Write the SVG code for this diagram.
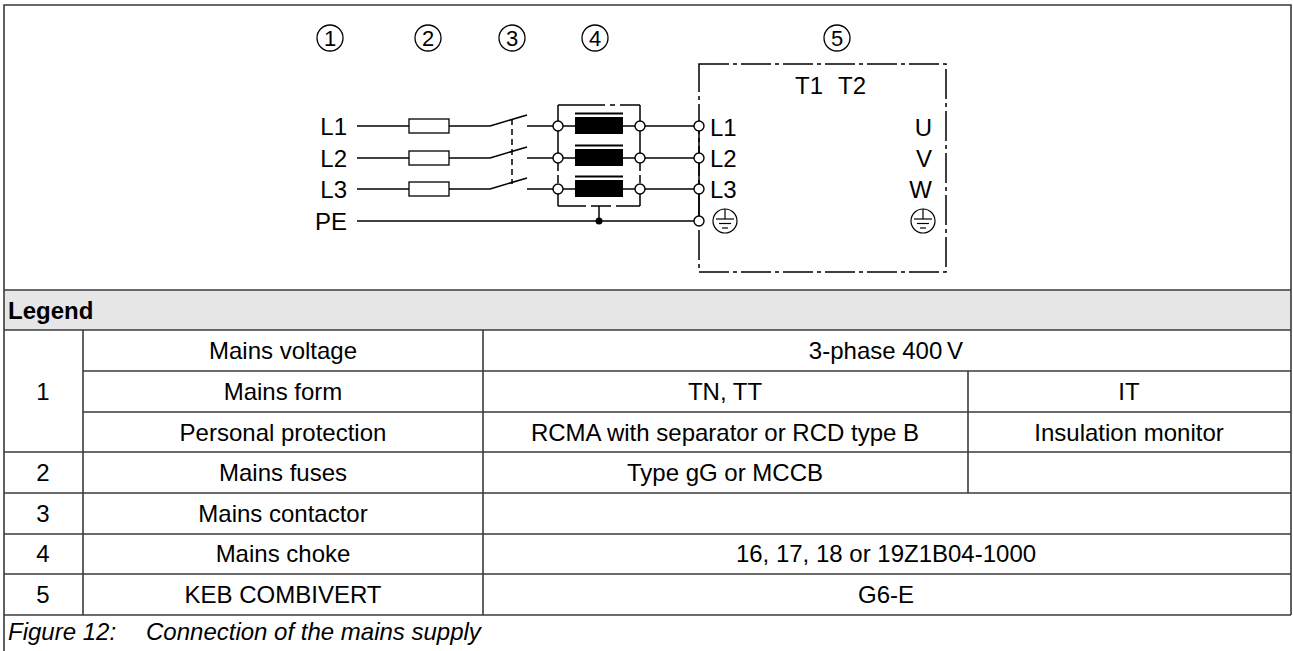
<svg xmlns="http://www.w3.org/2000/svg" width="1293" height="651" viewBox="0 0 1293 651">
<style>
.w{stroke:#000;stroke-width:1.5;fill:none}
.t{font-family:"Liberation Sans",Arial,sans-serif;fill:#000}
.d{font-size:24px}
.n{font-size:22px}
.tb{font-size:24px}
.g{stroke:#3a3a3a;stroke-width:1.6;fill:none}
.term{fill:#fff;stroke:#000;stroke-width:1.4}
.dd{stroke:#000;stroke-width:1.5;fill:none;stroke-dasharray:30,4,4,4}
.ds{stroke:#000;stroke-width:1.5;fill:none;stroke-dasharray:6,4}
</style>
<defs>
<g id="earth"><circle r="12" fill="#fff" stroke="#000" stroke-width="1.2"/><line x1="0" y1="-12" x2="0" y2="-2" stroke="#000" stroke-width="1.2"/><line x1="-9" y1="-2" x2="9" y2="-2" stroke="#000" stroke-width="1.2"/><line x1="-6" y1="2.5" x2="6" y2="2.5" stroke="#000" stroke-width="1.2"/><line x1="-3" y1="7" x2="3" y2="7" stroke="#000" stroke-width="1.2"/></g>
<g id="choke"><rect x="0" y="-9" width="48" height="17" fill="#000"/><line x1="0" y1="-12.5" x2="48" y2="-12.5" stroke="#000" stroke-width="1.8"/></g>
</defs>
<rect x="0" y="0" width="1293" height="651" fill="#fff"/>
<rect x="4" y="290" width="1287" height="40" fill="#e6e6e6"/>
<g id="frame" class="g">
<path d="M4,651 V5 H1291 V615"/>
<line x1="4" y1="290" x2="1291" y2="290"/>
<line x1="4" y1="330" x2="1291" y2="330"/>
<line x1="83" y1="371" x2="1291" y2="371"/>
<line x1="83" y1="412" x2="1291" y2="412"/>
<line x1="4" y1="452" x2="1291" y2="452"/>
<line x1="4" y1="493" x2="1291" y2="493"/>
<line x1="4" y1="534" x2="1291" y2="534"/>
<line x1="4" y1="574" x2="1291" y2="574"/>
<line x1="4" y1="615" x2="1291" y2="615"/>
<line x1="83" y1="330" x2="83" y2="615"/>
<line x1="483" y1="330" x2="483" y2="615"/>
<line x1="968" y1="371" x2="968" y2="493"/>
</g>
<g id="connectors">
<line class="w" x1="357" y1="126" x2="409" y2="126"/>
<line class="w" x1="449" y1="126" x2="490" y2="126"/>
<line class="w" x1="490" y1="126" x2="527" y2="115"/>
<line class="w" x1="527" y1="126" x2="553" y2="126"/>
<line class="w" x1="357" y1="158" x2="409" y2="158"/>
<line class="w" x1="449" y1="158" x2="490" y2="158"/>
<line class="w" x1="490" y1="158" x2="527" y2="147"/>
<line class="w" x1="527" y1="158" x2="553" y2="158"/>
<line class="w" x1="357" y1="189" x2="409" y2="189"/>
<line class="w" x1="449" y1="189" x2="490" y2="189"/>
<line class="w" x1="490" y1="189" x2="527" y2="178"/>
<line class="w" x1="527" y1="189" x2="553" y2="189"/>
<line class="ds" x1="512" y1="119" x2="512" y2="184"/>
<line class="w" x1="357" y1="221" x2="694" y2="221"/>
<line class="w" x1="563" y1="126" x2="575" y2="126"/>
<line class="w" x1="623" y1="126" x2="635" y2="126"/>
<line class="w" x1="563" y1="158" x2="575" y2="158"/>
<line class="w" x1="623" y1="158" x2="635" y2="158"/>
<line class="w" x1="563" y1="189" x2="575" y2="189"/>
<line class="w" x1="623" y1="189" x2="635" y2="189"/>
<line class="w" x1="645" y1="126" x2="694" y2="126"/>
<line class="w" x1="645" y1="158" x2="694" y2="158"/>
<line class="w" x1="645" y1="189" x2="694" y2="189"/>
<line class="w" x1="599" y1="206" x2="599" y2="221"/>
<circle cx="599" cy="221" r="3.5" fill="#000"/>
</g>
<g id="n1"><circle cx="330" cy="38" r="13" fill="none" stroke="#000" stroke-width="1.3"/><text class="t n" x="330" y="46" text-anchor="middle">1</text></g>
<g id="n2"><circle cx="428" cy="38" r="13" fill="none" stroke="#000" stroke-width="1.3"/><text class="t n" x="428" y="46" text-anchor="middle">2</text></g>
<g id="n3"><circle cx="512" cy="38" r="13" fill="none" stroke="#000" stroke-width="1.3"/><text class="t n" x="512" y="46" text-anchor="middle">3</text></g>
<g id="n4"><circle cx="595" cy="38" r="13" fill="none" stroke="#000" stroke-width="1.3"/><text class="t n" x="595" y="46" text-anchor="middle">4</text></g>
<g id="n5"><circle cx="837" cy="38" r="13" fill="none" stroke="#000" stroke-width="1.3"/><text class="t n" x="837" y="46" text-anchor="middle">5</text></g>
<g id="mains">
<text class="t d" x="347" y="135" text-anchor="end">L1</text>
<text class="t d" x="347" y="167" text-anchor="end">L2</text>
<text class="t d" x="347" y="198" text-anchor="end">L3</text>
<text class="t d" x="347" y="230" text-anchor="end">PE</text>
</g>
<g id="fuses">
<rect x="409" y="119" width="40" height="14" fill="#fff" stroke="#000" stroke-width="1.3"/>
<rect x="409" y="151" width="40" height="14" fill="#fff" stroke="#000" stroke-width="1.3"/>
<rect x="409" y="182" width="40" height="14" fill="#fff" stroke="#000" stroke-width="1.3"/>
</g>
<g id="choke-unit">
<path class="w" d="M558,105 V153 M640,105 V153 M558,194 V206 M640,194 V206"/>
<path class="w" stroke-dasharray="8,4" d="M558,163 V184 M640,163 V184"/>
<path class="w" stroke-dasharray="47,5,5,5,30" d="M558,105 H640"/>
<path class="w" stroke-dasharray="28,5,20,5,30" d="M558,206 H640"/>
<use href="#choke" x="575" y="126"/>
<use href="#choke" x="575" y="158"/>
<use href="#choke" x="575" y="189"/>
<circle class="term" cx="558" cy="126" r="5"/>
<circle class="term" cx="558" cy="158" r="5"/>
<circle class="term" cx="558" cy="189" r="5"/>
<circle class="term" cx="640" cy="126" r="5"/>
<circle class="term" cx="640" cy="158" r="5"/>
<circle class="term" cx="640" cy="189" r="5"/>
</g>
<g id="drive">
<rect class="dd" x="699" y="64" width="247" height="208"/>
<line class="w" x1="699" y1="126" x2="699" y2="221"/>
<circle class="term" cx="699" cy="126" r="5"/>
<circle class="term" cx="699" cy="158" r="5"/>
<circle class="term" cx="699" cy="189" r="5"/>
<circle class="term" cx="699" cy="221" r="5"/>
<text class="t d" x="795" y="94">T1</text>
<text class="t d" x="838" y="94">T2</text>
<text class="t d" x="710" y="136">L1</text>
<text class="t d" x="710" y="167">L2</text>
<text class="t d" x="710" y="198">L3</text>
<text class="t d" x="932" y="136" text-anchor="end">U</text>
<text class="t d" x="932" y="167" text-anchor="end">V</text>
<text class="t d" x="932" y="198" text-anchor="end">W</text>
<use href="#earth" x="725" y="221"/>
<use href="#earth" x="923" y="221"/>
</g>
<g id="legend" class="t tb">
<text x="8" y="319" font-weight="bold">Legend</text>
<text x="43" y="400" text-anchor="middle">1</text>
<text x="283" y="359" text-anchor="middle">Mains voltage</text>
<text x="886" y="359" text-anchor="middle">3-phase 400&#8201;V</text>
<text x="283" y="400" text-anchor="middle">Mains form</text>
<text x="725" y="400" text-anchor="middle">TN, TT</text>
<text x="1129" y="400" text-anchor="middle">IT</text>
<text x="283" y="441" text-anchor="middle">Personal protection</text>
<text x="725" y="441" text-anchor="middle">RCMA with separator or RCD type B</text>
<text x="1129" y="441" text-anchor="middle">Insulation monitor</text>
<text x="43" y="481" text-anchor="middle">2</text>
<text x="283" y="481" text-anchor="middle">Mains fuses</text>
<text x="725" y="481" text-anchor="middle">Type gG or MCCB</text>
<text x="43" y="522" text-anchor="middle">3</text>
<text x="283" y="522" text-anchor="middle">Mains contactor</text>
<text x="43" y="562" text-anchor="middle">4</text>
<text x="283" y="562" text-anchor="middle">Mains choke</text>
<text x="886" y="562" text-anchor="middle">16, 17, 18 or 19Z1B04-1000</text>
<text x="43" y="603" text-anchor="middle">5</text>
<text x="283" y="603" text-anchor="middle">KEB COMBIVERT</text>
<text x="886" y="603" text-anchor="middle">G6-E</text>
<text x="8" y="640" font-style="italic">Figure 12:</text>
<text x="146" y="640" font-style="italic">Connection of the mains supply</text>
</g>
</svg>
